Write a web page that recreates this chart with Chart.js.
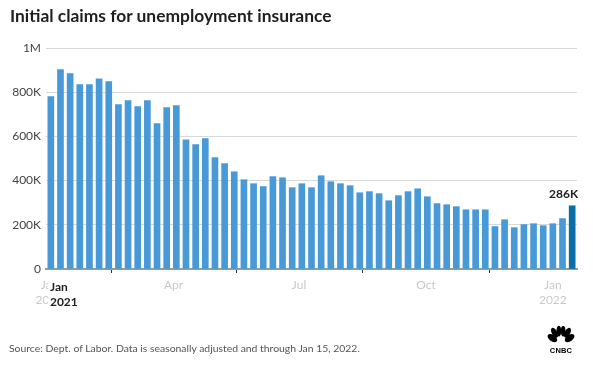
<!DOCTYPE html>
<html>
<head>
<meta charset="utf-8">
<script src="https://cdn.jsdelivr.net/npm/chart.js@4.4.1/dist/chart.umd.min.js"></script>
<style>
  body { margin: 0; background: #fff; }
  #wrap { position: relative; width: 593px; height: 371px; overflow: hidden; font-family: Lato, "Open Sans", sans-serif; }
  #chart { position: absolute; left: 0; top: 0; }
  .title { position: absolute; left: 10px; top: 5px; font-size: 17.4px; font-weight: 700; color: #1f1f1f; white-space: nowrap; }
  .source { position: absolute; left: 9px; top: 342px; font-size: 10.4px; color: #555; white-space: nowrap; }
  .logo { position: absolute; left: 544px; top: 326px; width: 34px; text-align: center; }
  .logo span { display: block; font: 900 7.5px Arial, sans-serif; color: #000; letter-spacing: 0.2px; margin-top: -3px; }
</style>
</head>
<body>
<div id="wrap">
  <canvas id="chart" width="593" height="371"></canvas>
  <div class="title">Initial claims for unemployment insurance</div>
  <div class="source">Source: Dept. of Labor. Data is seasonally adjusted and through Jan 15, 2022.</div>
  <div class="logo">
    <svg width="28" height="20" viewBox="0 0 26 18">
      <g fill="#000">
        <ellipse cx="5" cy="11" rx="3" ry="5" transform="rotate(-55 5 11)"/>
        <ellipse cx="7" cy="6" rx="2.6" ry="5" transform="rotate(-28 7 6)"/>
        <ellipse cx="11" cy="4.5" rx="2.2" ry="5"/>
        <ellipse cx="15" cy="4.5" rx="2.2" ry="5"/>
        <ellipse cx="19" cy="6" rx="2.6" ry="5" transform="rotate(28 19 6)"/>
        <ellipse cx="21" cy="11" rx="3" ry="5" transform="rotate(55 21 11)"/>
      </g>
    </svg>
    <span>CNBC</span>
  </div>
</div>
<script>
// weekly initial claims, week ending Jan 2, 2021 .. Jan 15, 2022 (thousands)
const claims = [
  780, 902, 884, 834, 834, 861, 848, 744, 762, 735,
  762, 658, 730, 739, 585, 563, 590, 504, 477, 440,
  404, 386, 373, 418, 413, 368, 386, 368, 422, 395,
  386, 377, 345, 350, 341, 309, 332, 350, 363, 327,
  296, 291, 282, 268, 268, 268, 192, 223, 187, 201,
  205, 196, 205, 228, 286
];
// day offsets from Jan 1, 2021 for each week-ending date
const weekDays = claims.map((_, i) => 1 + 7 * i);

const tickDays = [0, 90, 181, 273, 365];
const tickLabels = [['Jan', '2021'], 'Apr', 'Jul', 'Oct', ['Jan', '2022']];
const yTicks = [0, 200, 400, 600, 800, 1000];
const yTickLabels = ['0', '200K', '400K', '600K', '800K', '1M'];

const barColor = '#4899D7';
const lastColor = '#0A6FA8';

const labelPlugin = {
  id: 'extraLabels',
  afterDraw(chart) {
    const { ctx, scales: { x } } = chart;
    const meta = chart.getDatasetMeta(0);
    const last = meta.data[meta.data.length - 1];
    ctx.save();
    // value label over the latest bar
    ctx.font = '700 12px Lato, sans-serif';
    ctx.fillStyle = '#222';
    ctx.textAlign = 'right';
    ctx.textBaseline = 'middle';
    ctx.fillText(claims[claims.length - 1] + 'K', last.x + last.width / 2 + 3, last.y - 12);
    // bold first-tick label sitting over the grey one
    const x0 = x.getPixelForValue(0) + 0.5;
    ctx.fillStyle = '#fff';
    ctx.fillRect(x0 - 2, 277, 30, 32);
    ctx.fillStyle = '#222';
    ctx.textAlign = 'left';
    ctx.fillText('Jan', x0, 287);
    ctx.fillText('2021', x0, 302);
    ctx.restore();
  }
};

new Chart(document.getElementById('chart'), {
  type: 'bar',
  data: {
    datasets: [{
      data: weekDays.map((d, i) => ({ x: d, y: claims[i] })),
      backgroundColor: claims.map((_, i) => i === claims.length - 1 ? lastColor : barColor),
      barThickness: 6,
      borderWidth: 0
    }]
  },
  plugins: [labelPlugin],
  options: {
    responsive: false,
    animation: false,
    events: [],
    layout: { padding: { left: 9, right: 16, top: 48, bottom: 41 } },
    plugins: { legend: { display: false }, tooltip: { enabled: false } },
    scales: {
      x: {
        type: 'linear',
        min: -2.5,
        max: 382.5,
        offset: false,
        afterBuildTicks: s => { s.ticks = tickDays.map(v => ({ value: v })); },
        afterFit: s => { s.height = 61; },
        border: { display: true, color: '#999', width: 2 },
        grid: { drawOnChartArea: false, drawTicks: true, tickLength: 4, color: '#333', lineWidth: 1 },
        ticks: {
          autoSkip: false, maxRotation: 0, padding: 5,
          color: '#c9c9c9',
          font: { family: 'Lato', size: 12, lineHeight: 1.25 },
          callback: (v) => tickLabels[tickDays.indexOf(v)]
        }
      },
      y: {
        min: 0,
        max: 1000,
        afterBuildTicks: s => { s.ticks = yTicks.map(v => ({ value: v })); },
        afterFit: s => { s.width = 37; },
        border: { display: false },
        grid: { color: '#d9d9d9', lineWidth: 1, drawTicks: false },
        ticks: {
          padding: 5,
          color: '#444',
          font: { family: 'Lato', size: 12 },
          callback: (v) => yTickLabels[yTicks.indexOf(v)]
        }
      }
    }
  }
});
</script>
</body>
</html>
